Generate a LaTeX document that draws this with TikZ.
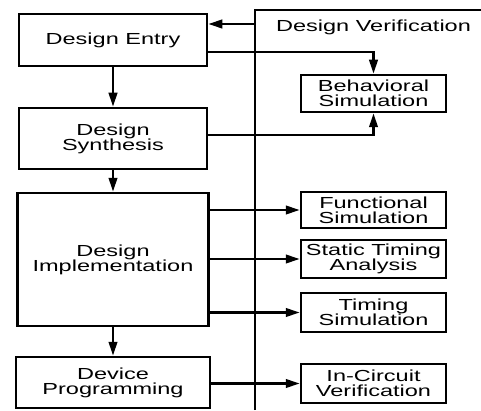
\documentclass[tikz,border=0pt]{standalone}
\usepackage{fontspec}
\setsansfont[FakeStretch=1.47]{Liberation Sans}
\usetikzlibrary{arrows.meta}

\tikzset{
  stage/.style={draw, line width=1.3pt, align=center, inner sep=0pt,
    font=\sffamily\fontsize{9.6}{9}\selectfont},
  check/.style={stage, minimum width=87pt},
  flow/.style={line width=1.7pt, -{Triangle[length=8.5pt,width=5pt]}}
}

\begin{document}
\begin{tikzpicture}[x=0.6pt, y=-0.6pt]

\useasboundingbox (0,0) rectangle (481,410);

% design flow
\node[stage, minimum width=112.8pt, minimum height=31.2pt] (entry) at (113,40) {Design Entry};
\node[stage, minimum width=112.8pt, minimum height=36.6pt] (synth) at (113,138.5) {Design\\Synthesis};
\node[stage, minimum width=114.6pt, minimum height=79.8pt] (impl) at (113,259.5) {Design\\Implementation};
\node[stage, minimum width=116.4pt, minimum height=30.6pt] (device) at (113,382.5) {Device\\Programming};

% verification side
\coordinate (vtop) at (255,10);
\coordinate (vbot) at (255,410);
\coordinate (vend) at (481,10);
\coordinate (back) at (255,24);
\draw[line width=1.5pt] (vbot) -- (vtop) -- (vend);
\node[font=\sffamily\fontsize{9.6}{9}\selectfont] (dv) at (373.5,27) {Design Verification};

\node[check, minimum height=22.2pt] (behav) at (373.5,93.5) {Behavioral\\Simulation};
\node[check, minimum height=21.6pt] (func) at (373.5,210) {Functional\\Simulation};
\node[check, minimum height=22.8pt] (sta) at (373.5,259) {Static Timing\\Analysis};
\node[check, minimum height=23.4pt] (tsim) at (373.5,312.5) {Timing\\Simulation};
\node[check, minimum height=23.4pt] (icv) at (373.5,383.5) {In-Circuit\\Verification};

\draw[flow] (entry) -- (synth);
\draw[flow] (synth) -- (impl);
\draw[flow] (impl) -- (device);

\draw[flow] (back) -- (back -| entry.east);
\draw[flow] (entry.east) ++(0,12) -| (behav.north);
\draw[flow] (synth.east) ++(0,-3.5) -| (behav.south);

\draw[flow] (func.west -| impl.east) -- (func.west);
\draw[flow] (sta.west -| impl.east) -- (sta.west);
\draw[flow] (tsim.west -| impl.east) -- (tsim.west);
\draw[flow] (icv.west -| device.east) -- (icv.west);

\end{tikzpicture}
\end{document}
